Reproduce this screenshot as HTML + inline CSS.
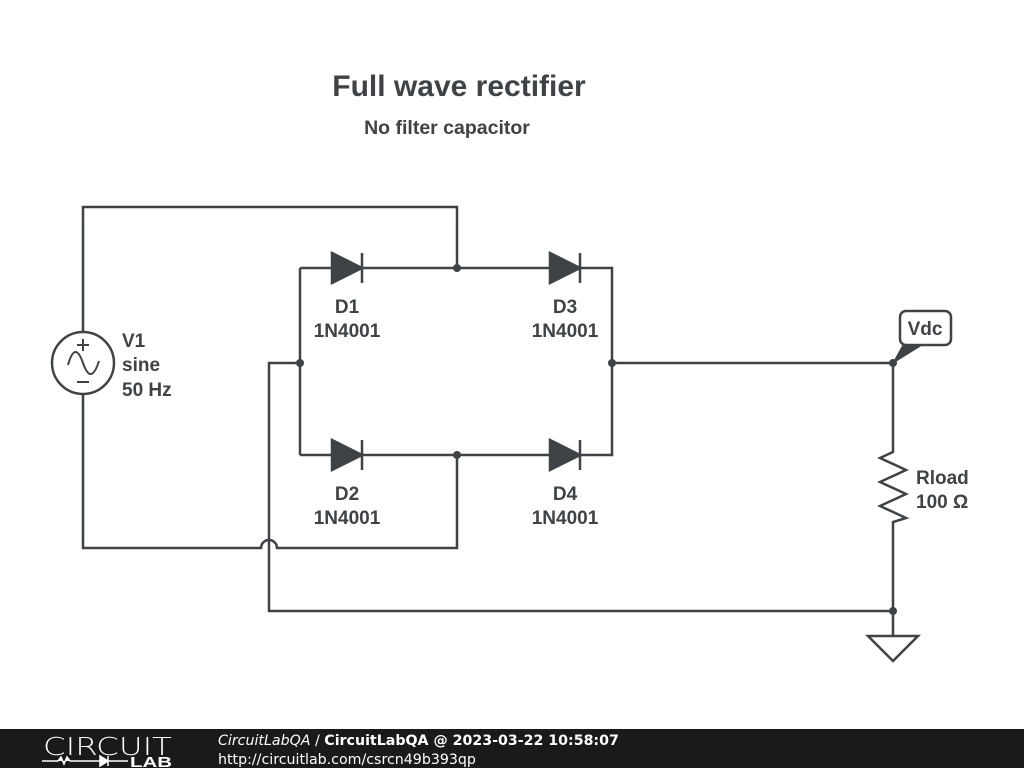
<!DOCTYPE html>
<html><head><style>
body{margin:0;width:1024px;height:768px;background:#fff;overflow:hidden;font-family:"Liberation Sans",sans-serif}
</style></head><body>
<svg width="1024" height="768" viewBox="0 0 1024 768" xmlns="http://www.w3.org/2000/svg">
<g fill="none" stroke="#3d4347" stroke-width="2.5">
<path d="M83 332 V207 H457 V268"/>
<path d="M83 394 V548 H261 A8 8 0 0 1 277 548 H457 V455"/>
<path d="M300 268 H332 M362 268 H550 M580 268 H612 V455 H580 M550 455 H362 M332 455 H300 Z"/>
<path d="M300 268 V455"/>
<path d="M300 363 H269 V611 H893"/>
<path d="M612 363 H893 V452 L880 458 L906 470 L880 482 L906 494 L880 506 L906 518 L893 522 V636"/>
<path d="M868 636 H918 L893 661 Z"/>
<circle cx="83" cy="363" r="31"/>
<path d="M68 365 Q75 340 83 363 Q91 386 99 361" stroke-width="2"/>
<path d="M77 345 H89 M83 339 V351 M77 382 H89" stroke-width="2"/>
<rect x="900" y="311" width="51" height="34" rx="6"/>
</g>
<g fill="#3d4347" stroke="#3d4347" stroke-width="2.5">
<path d="M332 253 L362 268 L332 283 Z M362 253 V283"/>
<path d="M550 253 L580 268 L550 283 Z M580 253 V283"/>
<path d="M332 440 L362 455 L332 470 Z M362 440 V470"/>
<path d="M550 440 L580 455 L550 470 Z M580 440 V470"/>
<path d="M893 363 L903 345 L922 345 Z" stroke-width="1"/>
</g>
<g fill="#3d4347">
<circle cx="457" cy="268" r="4"/><circle cx="457" cy="455" r="4"/>
<circle cx="300" cy="363" r="4"/><circle cx="612" cy="363" r="4"/>
<circle cx="893" cy="363" r="4"/><circle cx="893" cy="611" r="4"/>
</g>
<g fill="#3d4347" font-weight="bold" font-size="19">
<text x="459" y="96" font-size="30" text-anchor="middle">Full wave rectifier</text>
<text x="447" y="134" text-anchor="middle" font-size="19.5">No filter capacitor</text>
<text x="347" y="313" text-anchor="middle">D1</text><text x="347" y="337" text-anchor="middle">1N4001</text>
<text x="565" y="313" text-anchor="middle">D3</text><text x="565" y="337" text-anchor="middle">1N4001</text>
<text x="347" y="500" text-anchor="middle">D2</text><text x="347" y="524" text-anchor="middle">1N4001</text>
<text x="565" y="500" text-anchor="middle">D4</text><text x="565" y="524" text-anchor="middle">1N4001</text>
<text x="122" y="347">V1</text><text x="122" y="371">sine</text><text x="122" y="396">50 Hz</text>
<text x="916" y="484">Rload</text><text x="916" y="508">100 Ω</text>
<text x="925" y="335" text-anchor="middle">Vdc</text>
</g>
<rect x="0" y="729" width="1024" height="39" fill="#1a1a1a"/>
<text x="43" y="755" fill="#fff" font-size="25" font-family="DejaVu Sans,sans-serif" font-weight="200" textLength="129" lengthAdjust="spacingAndGlyphs">CIRCUIT</text>
<path d="M42 761 H58 L61 757 L64 764 L67 757 L70 761 H100 M100 756 L108 761 L100 766 Z M108 756 V766 M108 761 H128" stroke="#fff" stroke-width="1.5" fill="#fff"/>
<text x="130" y="767" fill="#fff" font-size="15" font-weight="bold" textLength="42" lengthAdjust="spacingAndGlyphs">LAB</text>
<text x="218" y="745" fill="#fff" font-size="14.2" font-family="DejaVu Sans,sans-serif"><tspan font-style="italic">CircuitLabQA</tspan> / <tspan font-weight="bold">CircuitLabQA @ 2023-03-22 10:58:07</tspan></text>
<text x="218" y="764" fill="#fff" font-size="14.2" font-family="DejaVu Sans,sans-serif">http://circuitlab.com/csrcn49b393qp</text>
</svg>
</body></html>
